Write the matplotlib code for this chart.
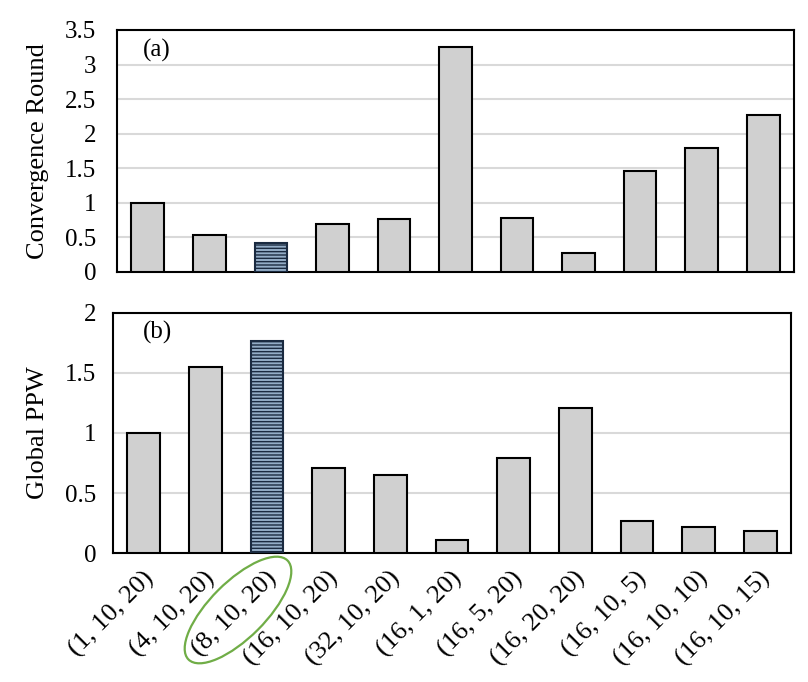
import matplotlib
matplotlib.use("Agg")
import matplotlib.pyplot as plt
from matplotlib.patches import Ellipse
from matplotlib.transforms import ScaledTranslation

categories = ["(1, 10, 20)", "(4, 10, 20)", "(8, 10, 20)", "(16, 10, 20)", "(32, 10, 20)",
              "(16, 1, 20)", "(16, 5, 20)", "(16, 20, 20)", "(16, 10, 5)", "(16, 10, 10)", "(16, 10, 15)"]
convergence = [1.00, 0.54, 0.42, 0.69, 0.76, 3.25, 0.78, 0.28, 1.46, 1.80, 2.27]
ppw = [1.00, 1.55, 1.77, 0.71, 0.65, 0.11, 0.79, 1.21, 0.27, 0.22, 0.18]
highlight = 2

plt.rcParams['font.family'] = ['Liberation Serif', 'DejaVu Serif']
plt.rcParams['hatch.linewidth'] = 1.0

fig = plt.figure(figsize=(8.08, 6.82), dpi=100)
W, H = 808, 682
ax1 = fig.add_axes([117/W, 1-272/H, (794-117)/W, (272-30)/H])
ax2 = fig.add_axes([113/W, 1-553/H, (791-113)/W, (553-313)/H])

x = list(range(len(categories)))

def draw(ax, vals, ylim, yticks, yticklabels, ylabel, panel, px, ypad):
    colors = ['#D0D0D0'] * len(vals)
    bars = ax.bar(x, vals, width=0.53, color=colors, edgecolor='black', linewidth=1.5, zorder=3)
    b = bars[highlight]
    b.set_facecolor('#93ACC6')
    b.set_hatch('-----')
    b.set_edgecolor('#1A2A40')
    ax.set_xlim(-0.5, len(vals) - 0.5)
    ax.set_ylim(*ylim)
    ax.set_yticks(yticks)
    ax.set_yticklabels(yticklabels, fontsize=18)
    ax.yaxis.grid(True, color='#D9D9D9', linewidth=1.5, zorder=0)
    ax.set_axisbelow(True)
    ax.tick_params(axis='both', length=0)
    ax.tick_params(axis='y', pad=ypad)
    for s in ax.spines.values():
        s.set_linewidth(1.5)
        s.set_color('black')
    ax.set_ylabel(ylabel, fontsize=19)
    ax.text(px, 0.917, panel, transform=ax.transAxes, fontsize=18, va='center', ha='left')

draw(ax1, convergence, (0, 3.5), [0, 0.5, 1, 1.5, 2, 2.5, 3, 3.5],
     ["0", "0.5", "1", "1.5", "2", "2.5", "3", "3.5"], "Convergence Round", "(a)", 0.038, 15)
draw(ax2, ppw, (0, 2), [0, 0.5, 1, 1.5, 2], ["0", "0.5", "1", "1.5", "2"], "Global PPW", "(b)", 0.044, 12)

ax1.set_xticks(x)
ax1.set_xticklabels([])
ax2.set_xticks(x)
ax2.set_xticklabels(categories, rotation=45, ha='right', rotation_mode='anchor', fontsize=19)
ax2.tick_params(axis='x', pad=10)
offset = ScaledTranslation(-2/100, 0, fig.dpi_scale_trans)
for lab in ax2.get_xticklabels():
    lab.set_transform(lab.get_transform() + offset)

ax1.yaxis.set_label_coords(-0.100, 0.5)
ax2.yaxis.set_label_coords(-0.094, 0.5)

ell = Ellipse((2.38, (H - 610) / 100), 1.40, 0.56, angle=45, transform=fig.dpi_scale_trans,
              fill=False, edgecolor='#70AD47', linewidth=1.6)
fig.add_artist(ell)

fig.savefig("out.png", dpi=100)
